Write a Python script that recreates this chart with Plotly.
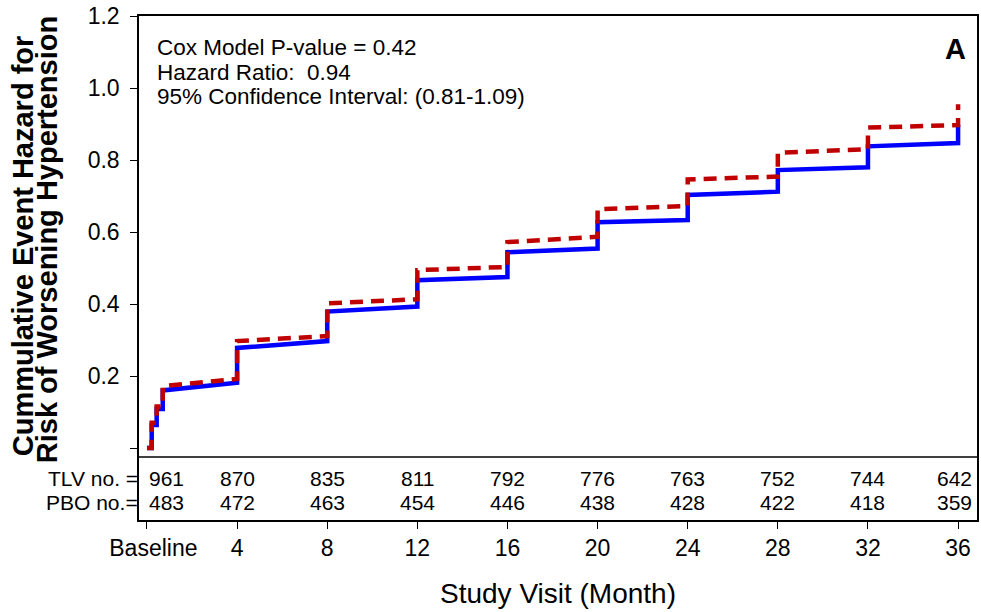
import plotly.graph_objects as go

# ---- data ----
visit_months = [0, 4, 8, 12, 16, 20, 24, 28, 32, 36]
visit_labels = ["\u00a0\u00a0Baseline", "4", "8", "12", "16", "20", "24", "28", "32", "36"]
tlv_n = [961, 870, 835, 811, 792, 776, 763, 752, 744, 642]
pbo_n = [483, 472, 463, 454, 446, 438, 428, 422, 418, 359]

tlv_time = [0, 0.21, 0.21, 0.43, 0.43, 0.70, 0.70, 4, 4, 8, 8, 12, 12, 16, 16,
            20, 20, 24, 24, 28, 28, 32, 32, 36, 36]
tlv_hazard = [0, 0, 0.064, 0.064, 0.108, 0.108, 0.160, 0.181, 0.278, 0.297,
              0.379, 0.393, 0.466, 0.475, 0.544, 0.554, 0.627, 0.633, 0.703,
              0.712, 0.772, 0.780, 0.838, 0.847, 0.898]
pbo_time = [0, 0.21, 0.21, 0.43, 0.43, 0.70, 0.70, 4, 4, 8, 8, 12, 12, 16, 16,
            20, 20, 24, 24, 28, 28, 32, 32, 36, 36]
pbo_hazard = [0, 0, 0.070, 0.070, 0.115, 0.115, 0.172, 0.192, 0.297, 0.311,
              0.402, 0.413, 0.494, 0.503, 0.572, 0.587, 0.663, 0.672, 0.746,
              0.754, 0.820, 0.830, 0.890, 0.897, 0.955]

y_ticks = [0, 0.2, 0.4, 0.6, 0.8, 1.0, 1.2]
y_ticktext = ["", "0.2", "0.4", "0.6", "0.8", "1.0", "1.2"]

stats_lines = ["Cox Model P-value = 0.42", "Hazard Ratio:  0.94",
               "95% Confidence Interval: (0.81-1.09)"]

FONT = "Liberation Sans, Arial, sans-serif"
W, H = 981, 612
ML, MR, MT, MB = 139, 2, 16, 92
PW, PH = W - ML - MR, H - MT - MB


def px_x(px):
    return (px - ML) / PW


def px_y(py):
    return (H - MB - py) / PH


fig = go.Figure()
fig.add_trace(go.Scatter(x=tlv_time, y=tlv_hazard, mode="lines",
                         line=dict(color="#0000FF", width=4.5), name="TLV",
                         hoverinfo="skip"))
fig.add_trace(go.Scatter(x=pbo_time, y=pbo_hazard, mode="lines",
                         line=dict(color="#C00000", width=4.5, dash="13px,8px"),
                         name="PBO", hoverinfo="skip"))

ann = []
# stats text
for txt, py in zip(stats_lines, [47, 72, 97]):
    ann.append(dict(text=txt, x=px_x(155), y=px_y(py), xref="paper", yref="paper",
                    xanchor="left", yanchor="middle", showarrow=False,
                    font=dict(family=FONT, size=22.5, color="black")))
# panel letter
ann.append(dict(text="<b>A</b>", x=px_x(957), y=px_y(49), xref="paper", yref="paper",
                xanchor="center", yanchor="middle", showarrow=False,
                font=dict(family=FONT, size=29, color="black")))
# number-at-risk table
row_y = [px_y(478), px_y(502)]
for row, (lab, vals) in enumerate([("TLV no. =", tlv_n), ("PBO no.=", pbo_n)]):
    ann.append(dict(text=lab, x=px_x(140), y=row_y[row], xref="paper", yref="paper",
                    xanchor="right", yanchor="middle", showarrow=False,
                    font=dict(family=FONT, size=21, color="black")))
    for j, (m, v) in enumerate(zip(visit_months, vals)):
        if j == 0:
            xa = "left"
            xv = m
        elif j == len(vals) - 1:
            xa = "right"
            xv = 36.7
        else:
            xa = "center"
            xv = m
        ann.append(dict(text=str(v), x=xv, y=row_y[row], xref="x", yref="paper",
                        xanchor=xa, yanchor="middle", showarrow=False,
                        font=dict(family=FONT, size=21, color="black")))
# y-axis title (two bold lines)
for txt, px, py in [("Cummulative Event Hazard for", 23, 246),
                    ("Risk of Worsening Hypertension", 47, 240)]:
    ann.append(dict(text="<b>" + txt + "</b>", x=px_x(px), y=px_y(py), xref="paper",
                    yref="paper", xanchor="center", yanchor="middle", textangle=-90,
                    showarrow=False, font=dict(family=FONT, size=29, color="black")))
# x-axis title
ann.append(dict(text="Study Visit (Month)", x=px_x(559), y=px_y(593), xref="paper",
                yref="paper", xanchor="center", yanchor="middle", showarrow=False,
                font=dict(family=FONT, size=28, color="black")))

fig.update_layout(
    width=W, height=H,
    margin=dict(l=ML, r=MR, t=MT, b=MB),
    paper_bgcolor="white", plot_bgcolor="white",
    showlegend=False,
    annotations=ann,
    shapes=[dict(type="line", xref="paper", yref="paper", x0=0, x1=1,
                 y0=px_y(457), y1=px_y(457), line=dict(color="black", width=1.5))],
    xaxis=dict(range=[-0.354, 36.84], tickvals=visit_months, ticktext=visit_labels,
               showline=True, linecolor="black", linewidth=1.5, mirror=True,
               ticks="outside", ticklen=7, tickwidth=1, tickcolor="black",
               showgrid=False, zeroline=False,
               tickfont=dict(family=FONT, size=23, color="black")),
    yaxis=dict(range=[-0.2, 1.2], tickvals=y_ticks, ticktext=y_ticktext,
               showline=True, linecolor="black", linewidth=1.5, mirror=True,
               ticks="outside", ticklen=7, tickwidth=1, tickcolor="black",
               showgrid=False, zeroline=False, ticklabelstandoff=6,
               tickfont=dict(family=FONT, size=23, color="black")),
)

fig.write_html("out.html",
               config={"displayModeBar": False},
               post_script="document.body.style.margin='0px';"
                           "document.body.style.overflow='hidden';")
